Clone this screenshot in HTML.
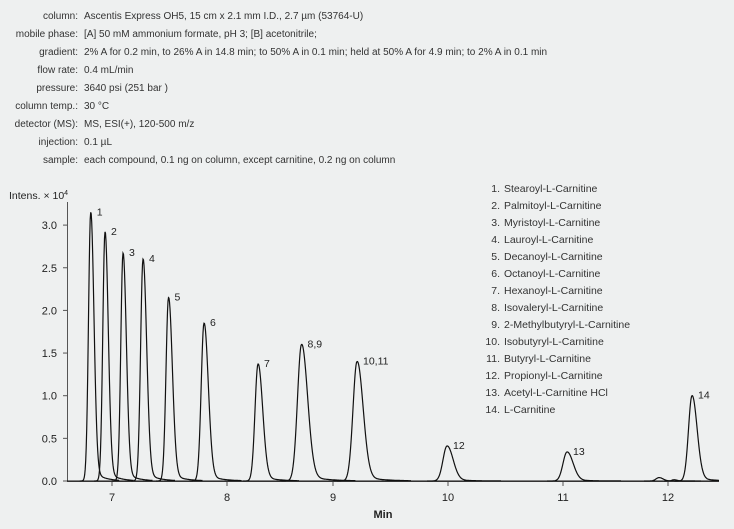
<!DOCTYPE html>
<html><head><style>
body{margin:0;background:#eef0f0;}
svg{display:block;font-family:"Liberation Sans",sans-serif;}
</style></head><body>
<svg id="s" width="734" height="529" xmlns="http://www.w3.org/2000/svg">
<rect width="734" height="529" fill="#eef0f0"/>
<g font-size="10" fill="#333">
<g text-anchor="end">
<text x="78" y="19">column:</text><text x="78" y="37">mobile phase:</text><text x="78" y="55">gradient:</text><text x="78" y="73">flow rate:</text><text x="78" y="91">pressure:</text><text x="78" y="109">column temp.:</text><text x="78" y="127">detector (MS):</text><text x="78" y="145">injection:</text><text x="78" y="163">sample:</text>
</g>
<text x="84" y="19">Ascentis Express OH5, 15 cm x 2.1 mm I.D., 2.7 µm (53764-U)</text>
<text x="84" y="37">[A] 50 mM ammonium formate, pH 3; [B] acetonitrile;</text>
<text x="84" y="55">2% A for 0.2 min, to 26% A in 14.8 min; to 50% A in 0.1 min; held at 50% A for 4.9 min; to 2% A in 0.1 min</text>
<text x="84" y="73">0.4 mL/min</text>
<text x="84" y="91">3640 psi (251 bar )</text>
<text x="84" y="109">30 °C</text>
<text x="84" y="127">MS, ESI(+), 120-500 m/z</text>
<text x="84" y="145">0.1 µL</text>
<text x="84" y="163">each compound, 0.1 ng on column, except carnitine, 0.2 ng on column</text>
</g>
<g font-size="10.5" fill="#333">
<text x="500" y="192" text-anchor="end">1.</text><text x="504" y="192">Stearoyl-L-Carnitine</text>
<text x="500" y="209" text-anchor="end">2.</text><text x="504" y="209">Palmitoyl-L-Carnitine</text>
<text x="500" y="226" text-anchor="end">3.</text><text x="504" y="226">Myristoyl-L-Carnitine</text>
<text x="500" y="243" text-anchor="end">4.</text><text x="504" y="243">Lauroyl-L-Carnitine</text>
<text x="500" y="260" text-anchor="end">5.</text><text x="504" y="260">Decanoyl-L-Carnitine</text>
<text x="500" y="277" text-anchor="end">6.</text><text x="504" y="277">Octanoyl-L-Carnitine</text>
<text x="500" y="294" text-anchor="end">7.</text><text x="504" y="294">Hexanoyl-L-Carnitine</text>
<text x="500" y="311" text-anchor="end">8.</text><text x="504" y="311">Isovaleryl-L-Carnitine</text>
<text x="500" y="328" text-anchor="end">9.</text><text x="504" y="328">2-Methylbutyryl-L-Carnitine</text>
<text x="500" y="345" text-anchor="end">10.</text><text x="504" y="345">Isobutyryl-L-Carnitine</text>
<text x="500" y="362" text-anchor="end">11.</text><text x="504" y="362">Butyryl-L-Carnitine</text>
<text x="500" y="379" text-anchor="end">12.</text><text x="504" y="379">Propionyl-L-Carnitine</text>
<text x="500" y="396" text-anchor="end">13.</text><text x="504" y="396">Acetyl-L-Carnitine HCl</text>
<text x="500" y="413" text-anchor="end">14.</text><text x="504" y="413">L-Carnitine</text>
</g>
<text x="9" y="199" font-size="10.5" fill="#222">Intens. × 10<tspan font-size="7" dy="-4">4</tspan></text>
<g stroke="#555" stroke-width="1"><line x1="67.5" y1="202" x2="67.5" y2="482"/><line x1="67" y1="481.5" x2="719" y2="481.5"/></g>
<g id="ticks" stroke="#555"></g>
<g font-size="11" fill="#222" text-anchor="end" id="yl"></g>
<g font-size="11" fill="#222" text-anchor="middle" id="xl"></g>
<text x="383" y="518" font-size="11" font-weight="bold" fill="#222" text-anchor="middle">Min</text>
<g id="tr" fill="none" stroke="#111" stroke-width="1.2"></g>
<g font-size="10.5" fill="#222" id="pl"></g>
</svg>
<script>
var Y=function(v){return 481-v*85.3};
var ns="http://www.w3.org/2000/svg";
function el(p,tag,a,txt){var e=document.createElementNS(ns,tag);for(var k in a)e.setAttribute(k,a[k]);if(txt)e.textContent=txt;document.getElementById(p).appendChild(e);}
for(var i=0;i<=6;i++){var v=i*0.5,y=Y(v);el("ticks","line",{x1:63,x2:67,y1:y,y2:y});el("yl","text",{x:57,y:y+4},v.toFixed(1));}
var TX=[112,227,333,448,563,668];
for(var t=0;t<6;t++){el("ticks","line",{x1:TX[t],x2:TX[t],y1:481,y2:486});el("xl","text",{x:TX[t],y:501},""+(t+7));}
var P=[[90.7,3.15,2.2,3.2,"1"],[105,2.92,2.2,3.2,"2"],[123,2.67,2.2,3.3,"3"],[143,2.6,2.4,3.6,"4"],[168.5,2.15,2.5,3.8,"5"],[204,1.85,2.8,4.2,"6"],[258,1.37,3,4.6,"7"],[301.5,1.6,4,6,"8,9"],[357,1.4,4,6,"10,11"],[447,0.41,4,6,"12"],[567,0.34,4,6,"13"],[692,1.0,3.5,5,"14"],[659,0.04,3,4,""],[674,0.015,2,3,""]];
el("tr","path",{d:"M67,481L719,481","stroke-width":1});
P.forEach(function(p){var d="";for(var x=Math.max(68,p[0]-5*p[2]);x<=Math.min(719,p[0]+9*p[3]);x+=0.5){var dx=x-p[0],sg=dx<0?p[2]:p[3];var g=Math.exp(-dx*dx/(2*sg*sg));var tail=dx>0?0.05*Math.exp(-dx/(3*p[3]))*(1-Math.exp(-dx/p[3])):0;d+=(d?"L":"M")+x.toFixed(1)+","+Y(p[1]*(g+tail)).toFixed(1);}
el("tr","path",{d:d});if(p[4])el("pl","text",{x:p[0]+6,y:Y(p[1])+3},p[4]);});
</script>
</body></html>
